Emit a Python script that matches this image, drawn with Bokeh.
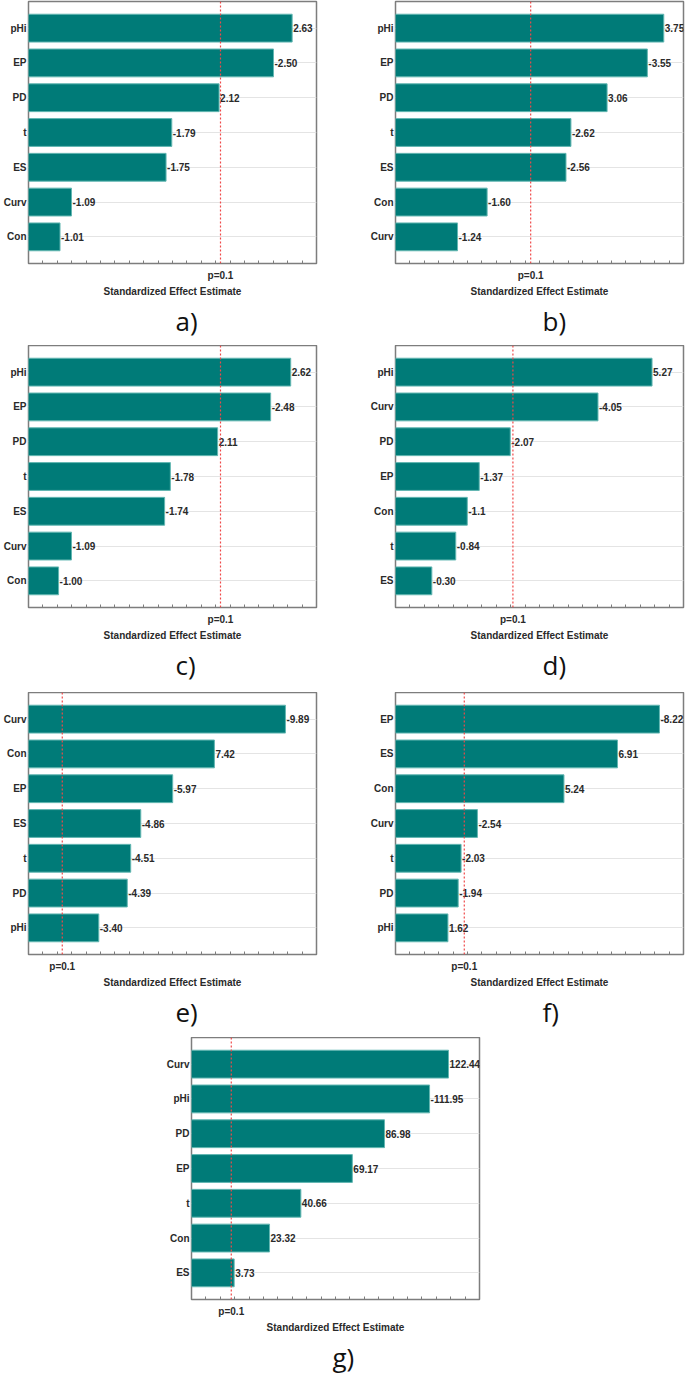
import numpy as np
from bokeh.plotting import figure
from bokeh.layouts import column, row
from bokeh.models import FactorRange, Range1d, Span, FixedTicker, Title, ColumnDataSource
from bokeh.core.properties import value
from bokeh.embed import file_html
from bokeh.resources import INLINE

# Standardized effects (top to bottom) for each Pareto chart
A_FACTORS = ["pHi", "EP", "PD", "t", "ES", "Curv", "Con"]
A_EFFECTS = ["2.63", "-2.50", "2.12", "-1.79", "-1.75", "-1.09", "-1.01"]

B_FACTORS = ["pHi", "EP", "PD", "t", "ES", "Con", "Curv"]
B_EFFECTS = ["3.75", "-3.55", "3.06", "-2.62", "-2.56", "-1.60", "-1.24"]

C_FACTORS = ["pHi", "EP", "PD", "t", "ES", "Curv", "Con"]
C_EFFECTS = ["2.62", "-2.48", "2.11", "-1.78", "-1.74", "-1.09", "-1.00"]

D_FACTORS = ["pHi", "Curv", "PD", "EP", "Con", "t", "ES"]
D_EFFECTS = ["5.27", "-4.05", "-2.07", "-1.37", "-1.1", "-0.84", "-0.30"]

E_FACTORS = ["Curv", "Con", "EP", "ES", "t", "PD", "pHi"]
E_EFFECTS = ["-9.89", "7.42", "-5.97", "-4.86", "-4.51", "-4.39", "-3.40"]

F_FACTORS = ["EP", "ES", "Con", "Curv", "t", "PD", "pHi"]
F_EFFECTS = ["-8.22", "6.91", "5.24", "-2.54", "-2.03", "-1.94", "1.62"]

G_FACTORS = ["Curv", "pHi", "PD", "EP", "t", "Con", "ES"]
G_EFFECTS = ["122.44", "-111.95", "86.98", "69.17", "40.66", "23.32", "3.73"]

# x-axis extents of each chart
X_LIMITS = {
    "a": (0.79, 2.80), "b": (0.485, 3.99), "c": (0.79, 2.80), "d": (-0.52, 5.98),
    "e": (0.956, 10.97), "f": (-0.016, 8.97), "g": (-19.9, 139.6),
}
P_CRIT = 2.13  # t value for p = 0.1
LETTERS = ["a)", "b)", "c)", "d)", "e)", "f)", "g)"]

BAR = "#007B78"
BAR_EDGE = "#63b7b2"
TXT = "#2a2a2a"
FONT = "Liberation Sans"


def pareto(factors, effects, key, letter, left, right, top, bottom, letter_shift=147):
    x0, x1 = X_LIMITS[key]
    mags = [abs(float(e)) for e in effects]
    src = ColumnDataSource(dict(f=factors, m=mags, lab=effects, base=[x0] * len(factors)))
    p = figure(
        y_range=FactorRange(factors=list(reversed(factors)), range_padding=0.076),
        x_range=Range1d(x0, x1),
        frame_width=288, frame_height=262,
        min_border_left=left, min_border_right=right,
        min_border_top=top, min_border_bottom=bottom,
        output_backend="svg", toolbar_location=None,
    )
    p.hbar(y="f", left="base", right="m", height=0.8, source=src,
           fill_color=BAR, line_color=BAR_EDGE, line_width=1)
    p.text(x="m", y="f", text="lab", source=src, x_offset=1,
           text_align="left", text_baseline="middle",
           text_font=value(FONT), text_font_style="bold",
           text_font_size="10px", text_color=TXT)
    p.add_layout(Span(location=P_CRIT, dimension="height", line_color="#f04848",
                      line_dash="2 2", line_width=1.2))

    p.outline_line_color = "#7d7d7d"
    p.outline_line_width = 1.5
    p.xgrid.grid_line_color = None
    p.ygrid.grid_line_color = "#e4e4e4"
    p.background_fill_color = "white"
    p.border_fill_color = "white"

    xa = p.xaxis[0]
    xa.ticker = FixedTicker(ticks=[P_CRIT], minor_ticks=list(np.linspace(x0, x1, 21)))
    xa.major_label_overrides = {P_CRIT: "p=0.1"}
    xa.axis_line_color = None
    xa.major_tick_in = 0
    xa.major_tick_out = 0
    xa.minor_tick_in = 3
    xa.minor_tick_out = 0
    xa.minor_tick_line_color = "#7d7d7d"
    xa.major_label_standoff = 6
    xa.major_label_text_font = FONT
    xa.major_label_text_font_style = "bold"
    xa.major_label_text_font_size = "10px"
    xa.major_label_text_color = TXT
    xa.axis_label = "Standardized Effect Estimate"
    xa.axis_label_standoff = 2
    xa.axis_label_text_font = FONT
    xa.axis_label_text_font_style = "bold"
    xa.axis_label_text_font_size = "10px"
    xa.axis_label_text_color = TXT

    ya = p.yaxis[0]
    ya.axis_line_color = None
    ya.major_tick_in = 0
    ya.major_tick_out = 0
    ya.major_label_standoff = 2
    ya.major_label_text_font = FONT
    ya.major_label_text_font_style = "bold"
    ya.major_label_text_font_size = "10px"
    ya.major_label_text_color = TXT

    p.add_layout(Title(text=letter, align="left", offset=letter_shift, standoff=2,
                       text_font="Open Sans", text_font_style="normal",
                       text_font_size="26px", text_color="#111111"), "below")
    return p


pa = pareto(A_FACTORS, A_EFFECTS, "a", LETTERS[0], 28, 24, 1, 82)
pb = pareto(B_FACTORS, B_EFFECTS, "b", LETTERS[1], 55, 2, 1, 82)
pc = pareto(C_FACTORS, C_EFFECTS, "c", LETTERS[2], 28, 24, 0, 85)
pd_ = pareto(D_FACTORS, D_EFFECTS, "d", LETTERS[3], 55, 2, 0, 85)
pe = pareto(E_FACTORS, E_EFFECTS, "e", LETTERS[4], 28, 24, 0, 83)
pf = pareto(F_FACTORS, F_EFFECTS, "f", LETTERS[5], 55, 2, 0, 83)
pg = pareto(G_FACTORS, G_EFFECTS, "g", LETTERS[6], 191, 206, 0, 75, letter_shift=141)

page = column(row(pa, pb), row(pc, pd_), row(pe, pf), pg)

open("out.html", "w").write(file_html(page, INLINE))
